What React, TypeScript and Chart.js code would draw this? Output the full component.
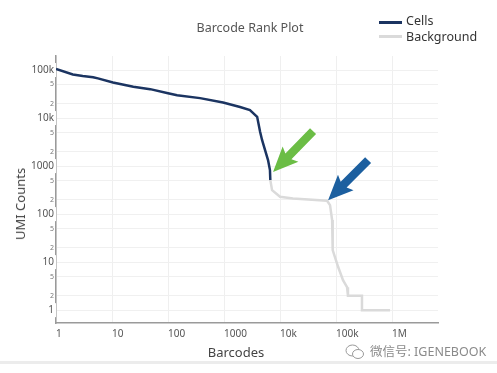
import React, { useEffect, useRef } from "react";
import { Chart, registerables } from "chart.js";

Chart.register(...registerables);

// ---- data ----
const CELLS_X = [1, 2, 3, 4.6, 5.6, 10.4, 24, 48, 100, 145, 373, 960, 1930, 2900, 3900, 4400, 4770, 5400, 6100, 6600, 6700];
const CELLS_Y = [105000, 81000, 75000, 71000, 67000, 55000, 45000, 40000, 33000, 30000, 26000, 21000, 17000, 14700, 10600, 5200, 3500, 2150, 1330, 825, 510];

const BG_X = [6700, 7200, 10000, 17000, 69000, 78000, 85000, 86000, 88000, 109000, 133000, 157000, 163000, 163000, 290000, 290000, 920000];
const BG_Y = [510, 316, 230, 212, 190, 154, 75, 46, 17.8, 7.9, 4.2, 3, 3, 2, 2, 1, 1];

const X_TICKS = [1, 10, 100, 1000, 10000, 100000, 1000000];
const X_TICK_LABELS = ["1", "10", "100", "1000", "10k", "100k", "1M"];
const Y_TICKS = [1, 2, 5, 10, 20, 50, 100, 200, 500, 1000, 2000, 5000, 10000, 20000, 50000, 100000];
const Y_TICK_LABELS = ["1", "2", "5", "10", "2", "5", "100", "2", "5", "1000", "2", "5", "10k", "2", "5", "100k"];
const Y_MAJOR = [1, 10, 100, 1000, 10000, 100000];

// annotation arrows (data coordinates)
const ARROW_TIP_X = [7500, 72000];
const ARROW_TIP_Y = [750, 195];
const ARROW_TAIL_X = [38800, 373000];
const ARROW_TAIL_Y = [5360, 1330];
const ARROW_COLORS = ["#6bbd45", "#1c5f9f"];

const FONT = "'Noto Sans', 'Noto Sans CJK SC', sans-serif";

const arrowPlugin = {
  id: "arrows",
  afterDatasetsDraw(chart: any) {
    const { ctx, scales } = chart;
    const xs = scales.x;
    const ys = scales.y;
    ctx.save();
    for (let i = 0; i < ARROW_TIP_X.length; i++) {
      const tx = xs.getPixelForValue(ARROW_TIP_X[i]);
      const ty = ys.getPixelForValue(ARROW_TIP_Y[i]);
      const sx = xs.getPixelForValue(ARROW_TAIL_X[i]);
      const sy = ys.getPixelForValue(ARROW_TAIL_Y[i]);
      const len = Math.hypot(tx - sx, ty - sy);
      const dx = (tx - sx) / len;
      const dy = (ty - sy) / len;
      const nx = -dy;
      const ny = dx;
      const H = 22;
      const W = 11;
      const S = 4.2;
      const bx = tx - dx * H;
      const by = ty - dy * H;
      ctx.beginPath();
      ctx.moveTo(sx + nx * S, sy + ny * S);
      ctx.lineTo(bx + nx * S, by + ny * S);
      ctx.lineTo(bx + nx * W - dx * 3, by + ny * W - dy * 3);
      ctx.lineTo(tx, ty);
      ctx.lineTo(bx - nx * W - dx * 3, by - ny * W - dy * 3);
      ctx.lineTo(bx - nx * S, by - ny * S);
      ctx.lineTo(sx - nx * S, sy - ny * S);
      ctx.closePath();
      ctx.fillStyle = ARROW_COLORS[i];
      ctx.fill();
    }
    ctx.restore();
  },
};

export default function App() {
  const canvasRef = useRef<HTMLCanvasElement | null>(null);

  useEffect(() => {
    if (!canvasRef.current) return;
    const chart = new Chart(canvasRef.current, {
      type: "line",
      data: {
        datasets: [
          {
            label: "Background",
            data: BG_X.map((x, i) => ({ x, y: BG_Y[i] })),
            borderColor: "#dadada",
            borderWidth: 2.5,
            pointRadius: 0,
            tension: 0,
          },
          {
            label: "Cells",
            data: CELLS_X.map((x, i) => ({ x, y: CELLS_Y[i] })),
            borderColor: "#1b3461",
            borderWidth: 2.5,
            pointRadius: 0,
            tension: 0,
          },
        ],
      },
      options: {
        responsive: false,
        animation: false,
        devicePixelRatio: 1,
        layout: { padding: { top: 56, right: 59, left: 0, bottom: 0 } },
        plugins: {
          legend: { display: false },
          title: { display: false },
          tooltip: { enabled: false },
        },
        scales: {
          x: {
            type: "logarithmic",
            min: 1,
            max: 6600000,
            afterBuildTicks: (s: any) => {
              s.ticks = X_TICKS.map((v) => ({ value: v }));
            },
            afterFit: (s: any) => {
              s.height = 50;
            },
            ticks: {
              autoSkip: false,
              maxRotation: 0,
              align: "start",
              padding: 5,
              color: "#555",
              font: { size: 10, family: FONT },
              callback: (v: any) => X_TICK_LABELS[X_TICKS.indexOf(Number(v))] ?? "",
            },
            grid: { color: "#efefef", drawTicks: false, lineWidth: 1 },
            border: { color: "#9a9a9a", width: 1.5 },
          },
          y: {
            type: "logarithmic",
            min: 0.54,
            max: 196000,
            afterBuildTicks: (s: any) => {
              s.ticks = Y_TICKS.map((v) => ({ value: v }));
            },
            afterFit: (s: any) => {
              s.width = 56;
            },
            ticks: {
              autoSkip: false,
              padding: 2,
              color: (c: any) => (Y_MAJOR.includes(c.tick?.value) ? "#555" : "#777"),
              font: (c: any) =>
                Y_MAJOR.includes(c.tick?.value)
                  ? { size: 10, family: FONT }
                  : { size: 7, family: FONT },
              showLabelBackdrop: (c: any) => Y_MAJOR.includes(c.tick?.value),
              backdropColor: "#ffffff",
              backdropPadding: { top: 1, bottom: 1, left: 0, right: 3 },
              callback: (v: any) => Y_TICK_LABELS[Y_TICKS.indexOf(Number(v))] ?? "",
            },
            grid: { color: "#f0f0f0", drawTicks: false, lineWidth: 1 },
            border: { color: "#9a9a9a", width: 1.5 },
          },
        },
      } as any,
      plugins: [arrowPlugin],
    });
    return () => chart.destroy();
  }, []);

  const text = (extra: React.CSSProperties): React.CSSProperties => ({
    position: "absolute",
    fontFamily: FONT,
    whiteSpace: "nowrap",
    ...extra,
  });

  return (
    <div
      style={{
        position: "fixed",
        left: 0,
        top: 0,
        width: 497,
        height: 373,
        background: "#fff",
        overflow: "hidden",
      }}
    >
      <canvas ref={canvasRef} width={497} height={373} style={{ position: "absolute", left: 0, top: 0, width: 497, height: 373 }} />
      <div style={text({ left: 150, width: 200, top: 19, lineHeight: "18px", fontSize: 12.5, color: "#555", textAlign: "center" })}>
        Barcode Rank Plot
      </div>
      <div style={{ position: "absolute", left: 379, top: 21, width: 23, height: 3, background: "#1b3461" }} />
      <div style={text({ left: 406, top: 12, lineHeight: "18px", fontSize: 12.5, color: "#333" })}>Cells</div>
      <div style={{ position: "absolute", left: 379, top: 35, width: 23, height: 2.5, background: "#dadada" }} />
      <div style={text({ left: 406, top: 28, lineHeight: "18px", fontSize: 12.5, color: "#333" })}>Background</div>
      <div style={text({ left: 136, width: 200, top: 343, lineHeight: "18px", fontSize: 13, color: "#444", textAlign: "center" })}>
        Barcodes
      </div>
      <div
        style={text({
          left: 20,
          top: 204,
          lineHeight: "18px",
          fontSize: 13,
          color: "#444",
          transform: "translate(-50%, -50%) rotate(-90deg)",
        })}
      >
        UMI Counts
      </div>
      <svg style={{ position: "absolute", left: 345, top: 344 }} width={20} height={16} viewBox="0 0 20 16">
        <ellipse cx="7.5" cy="6.5" rx="6.5" ry="5.5" fill="none" stroke="#999" strokeWidth="1" />
        <ellipse cx="13" cy="10" rx="5.5" ry="4.5" fill="#fff" stroke="#999" strokeWidth="1" />
      </svg>
      <div style={text({ left: 370, top: 343, lineHeight: "18px", fontSize: 12.5, color: "#8a8a8a" })}>微信号: IGENEBOOK</div>
      <div style={{ position: "absolute", left: 0, top: 361, width: 497, height: 3, background: "#ececec" }} />
    </div>
  );
}
